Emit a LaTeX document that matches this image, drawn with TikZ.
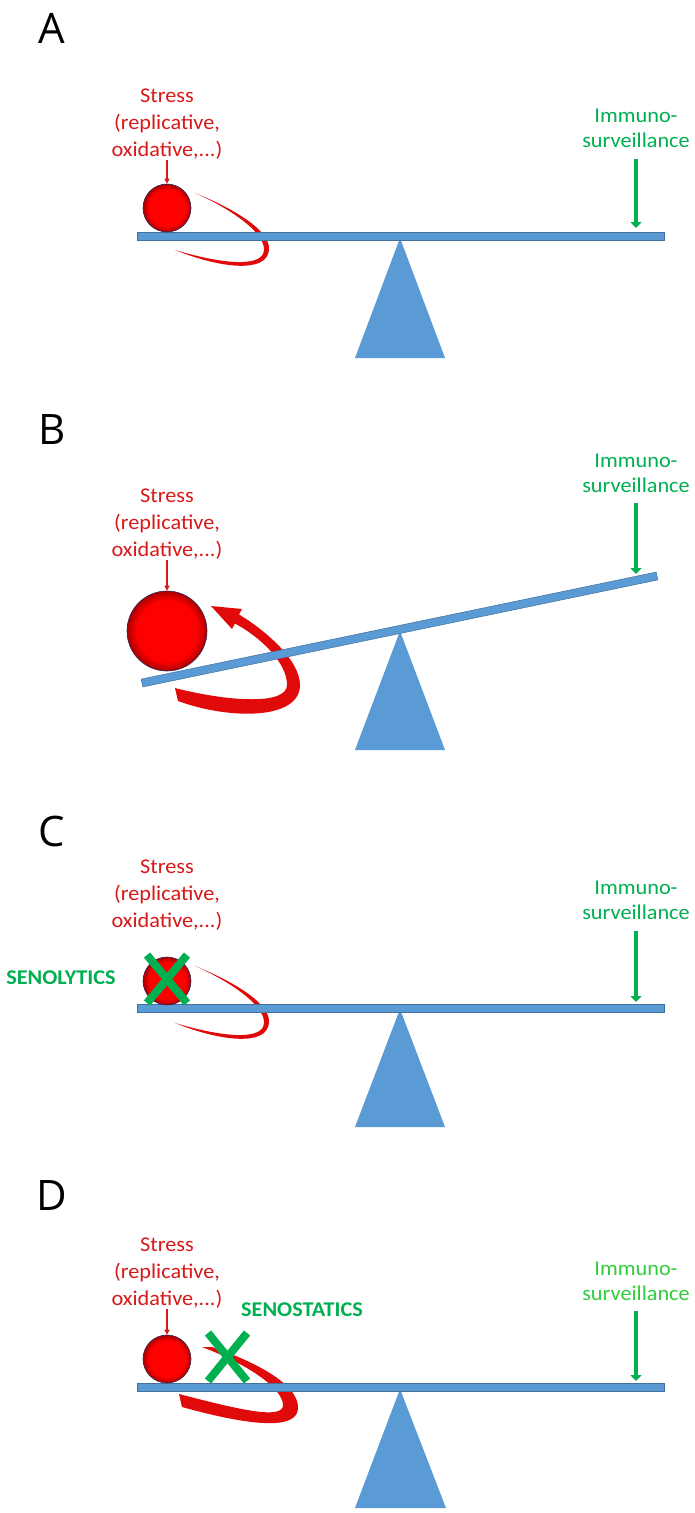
\documentclass[tikz,border=0pt]{standalone}
\usepackage{fontspec}
\setmainfont{Carlito}
\newfontfamily\lblfont[FakeStretch=1.06]{Carlito}
\newfontfamily\letfont{Open Sans}
\usetikzlibrary{arrows.meta,calc}
\definecolor{beamblue}{HTML}{5B9BD5}
\definecolor{beamedge}{HTML}{41719C}
\definecolor{stressred}{RGB}{215,25,25}
\definecolor{loopred}{RGB}{225,10,10}
\definecolor{ballred}{RGB}{255,0,0}
\definecolor{balldark}{RGB}{170,0,0}
\definecolor{balledge}{RGB}{50,40,90}
\definecolor{immgreen}{HTML}{00B050}
\definecolor{immlight}{RGB}{50,205,60}
\pgfdeclareradialshading{ballshade}{\pgfpoint{0bp}{0bp}}{color(0bp)=(ballred); color(19bp)=(ballred); color(25bp)=(balldark); color(50bp)=(balldark)}
\tikzset{
 panellabel/.style={font=\letfont\fontsize{42}{42}\selectfont, inner sep=0},
 stresstext/.style={font=\lblfont\fontsize{21}{27}\selectfont, text=stressred, align=center, inner sep=0, anchor=south},
 immtext/.style={font=\lblfont\fontsize{21}{25}\selectfont, text=immgreen, align=center, inner sep=0, anchor=south},
 drugtext/.style={font=\lblfont\bfseries\fontsize{21}{21}\selectfont, text=immgreen, inner sep=0},
 ballshape/.style={circle, inner sep=0, minimum size=#1, shading=ballshade, draw=balledge, line width=0.6pt},
 stressarrow/.style={draw=stressred, line width=1.5pt, -{Triangle[width=5pt,length=5pt]}},
 immarrow/.style={draw=immgreen, line width=4.5pt, -{Triangle[width=11pt,length=6pt]}},
 beam/.style={fill=beamblue, draw=beamedge, line width=0.5pt},
 pivot/.style={fill=beamblue},
 ribbon/.style={fill=loopred},
 crossline/.style={draw=immgreen, line width=8pt},
}
\begin{document}
\begin{tikzpicture}[x=1pt,y=-1pt]
\useasboundingbox (0,0) rectangle (694,1513);
\fill[white] (0,0) rectangle (694,1513);

% ================= Panel A =================
\node[panellabel] (labA) at (52,28) {A};
\begin{scope}[shift={(167,208)}]
 \fill[ribbon] (28,-15) .. controls (65,0) and (104,22) .. (102,42) .. controls (100,65) and (55,61) .. (8,42)
   .. controls (55,56) and (96,60) .. (97,42) .. controls (98,24) and (62,0) .. (28,-15) -- cycle;
\end{scope}
\fill[pivot] (400,238) -- (445,358) -- (355,358) -- cycle;
\draw[beam] (137,232) rectangle (664,240);
\node[ballshape=48] (ballA) at (167,208) {};
\node[stresstext] (stressA) at (167,160) {Stress\\(replicative,\\oxidative,...)};
\draw[stressarrow] (stressA.south) -- (ballA.north);
\node[immtext] (immA) at (636,148) {Immuno-\\surveillance};
\coordinate (immAend) at (636,228);
\draw[immarrow] ([yshift=-11pt]immA.south) -- (immAend);

% ================= Panel B =================
\node[panellabel] (labB) at (52,430) {B};
\fill[ribbon] (178,701) .. controls (230,720) and (300,720) .. (300,685)
  .. controls (300,660) and (265,630) .. (239,614.5) -- (242,609) -- (211,606) -- (232,629) -- (235,623.5)
  .. controls (260,637) and (287,662) .. (287,685) .. controls (287,705) and (230,702) .. (175,688) -- cycle;
\fill[pivot] (400,631) -- (445,750) -- (355,750) -- cycle;
\begin{scope}[shift={(399.5,629.5)}, rotate=11.74]
 \draw[beam] (-263,-4) rectangle (263,4);
\end{scope}
\node[ballshape=80] (ballB) at (167,631) {};
\node[stresstext] (stressB) at (167,560) {Stress\\(replicative,\\oxidative,...)};
\draw[stressarrow] (stressB.south) -- (ballB.north);
\node[immtext] (immB) at (636,493) {Immuno-\\surveillance};
\coordinate (immBend) at (636,574);
\draw[immarrow] ([yshift=-10pt]immB.south) -- (immBend);

% ================= Panel C =================
\node[panellabel] (labC) at (52,831) {C};
\begin{scope}[shift={(167,981)}]
 \fill[ribbon] (28,-15) .. controls (65,0) and (104,22) .. (102,42) .. controls (100,65) and (55,61) .. (8,42)
   .. controls (55,56) and (96,60) .. (97,42) .. controls (98,24) and (62,0) .. (28,-15) -- cycle;
\end{scope}
\fill[pivot] (400,1009) -- (445,1127) -- (355,1127) -- cycle;
\draw[beam] (137,1004) rectangle (664,1012);
\node[ballshape=48] (ballC) at (167,981) {};
\node[stresstext] (stressC) at (167,931) {Stress\\(replicative,\\oxidative,...)};
\draw[crossline] (147,955) -- (187,1003);
\draw[crossline] (187,955) -- (147,1003);
\node[drugtext] (senoC) at (61,978) {SENOLYTICS};
\node[immtext] (immC) at (636,920) {Immuno-\\surveillance};
\coordinate (immCend) at (636,1002);
\draw[immarrow] ([yshift=-11pt]immC.south) -- (immCend);

% ================= Panel D =================
\node[panellabel] (labD) at (52,1195) {D};
\begin{scope}[shift={(167,1359)}]
 \fill[ribbon] (45,-12) .. controls (95,5) and (133,28) .. (131,50) .. controls (129,72) and (80,66) .. (15,48)
   -- (12,35) .. controls (70,50) and (118,62) .. (116,45) .. controls (114,28) and (80,5) .. (35,-12) -- cycle;
\end{scope}
\fill[pivot] (400,1389) -- (446,1508) -- (355,1508) -- cycle;
\draw[beam] (137,1383) rectangle (664,1391);
\node[ballshape=48] (ballD) at (167,1359) {};
\node[stresstext] (stressD) at (167,1309) {Stress\\(replicative,\\oxidative,...)};
\draw[stressarrow] (stressD.south) -- (ballD.north);
\draw[crossline] (208,1333) -- (247,1381);
\draw[crossline] (247,1333) -- (208,1381);
\node[drugtext] (senoD) at (302,1310) {SENOSTATICS};
\node[immtext, text=immlight] (immD) at (636,1301) {Immuno-\\surveillance};
\coordinate (immDend) at (636,1381);
\draw[immarrow] ([yshift=-10pt]immD.south) -- (immDend);
\end{tikzpicture}
\end{document}
